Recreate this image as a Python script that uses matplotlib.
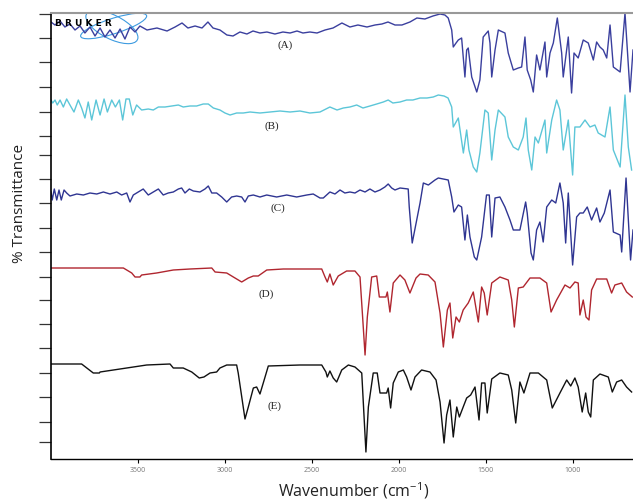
import matplotlib
matplotlib.use("Agg")
import matplotlib.pyplot as plt
from matplotlib.patches import Ellipse

plt.rcParams["font.family"] = ["Open Sans", "DejaVu Sans"]
plt.rcParams["mathtext.default"] = "regular"

# 五条红外光谱 (A)-(E)，纵坐标为堆叠后的相对透过率
a_wn = [4000, 3977, 3948, 3920, 3891, 3862, 3833, 3805, 3776, 3747, 3718, 3690, 3661, 3632, 3603, 3575,
        3546, 3517, 3489, 3448, 3391, 3333, 3287, 3247, 3213, 3172, 3132, 3098, 3069, 3029, 2989, 2954,
        2914, 2874, 2839, 2799, 2759, 2713, 2667, 2626, 2586, 2552, 2512, 2471, 2425, 2379, 2328, 2282,
        2236, 2184, 2138, 2098, 2063, 2023, 1983, 1937, 1897, 1851, 1805, 1764, 1736, 1717, 1697, 1688,
        1672, 1659, 1640, 1621, 1611, 1602, 1582, 1553, 1535, 1516, 1487, 1477, 1467, 1448, 1429, 1391,
        1372, 1343, 1314, 1295, 1276, 1263, 1243, 1228, 1209, 1190, 1161, 1151, 1132, 1113, 1090, 1065,
        1056, 1027, 1008, 994, 970, 941, 912, 883, 864, 845, 826, 806, 787, 768, 729, 701, 672, 655]
a_t = [437, 434, 438, 432, 435, 429, 433, 426, 432, 423, 431, 422, 429, 421, 430, 420,
       432, 427, 433, 429, 431, 428, 432, 436, 431, 433, 431, 437, 431, 429, 424, 423,
       427, 425, 428, 426, 427, 425, 427, 426, 428, 426, 427, 426, 429, 431, 436, 432,
       434, 432, 434, 435, 437, 434, 434, 437, 441, 440, 443, 445, 444, 441, 429, 412,
       416, 419, 421, 382, 409, 411, 382, 367, 379, 422, 428, 416, 382, 409, 429, 426,
       406, 389, 391, 392, 422, 389, 379, 367, 404, 389, 417, 382, 406, 416, 441, 406,
       382, 422, 366, 406, 401, 419, 416, 399, 417, 412, 409, 401, 434, 392, 387, 446, 367, 409]

b_wn = [4000, 3990, 3977, 3964, 3948, 3929, 3910, 3891, 3868, 3843, 3824, 3805, 3786, 3766, 3741, 3718,
        3695, 3676, 3651, 3630, 3607, 3588, 3569, 3550, 3530, 3508, 3479, 3441, 3412, 3383, 3345, 3306,
        3268, 3240, 3201, 3163, 3125, 3096, 3067, 3029, 3000, 2971, 2933, 2895, 2856, 2799, 2741, 2684,
        2626, 2569, 2512, 2454, 2397, 2356, 2320, 2282, 2243, 2207, 2167, 2128, 2090, 2062, 2035, 1994,
        1956, 1920, 1879, 1839, 1803, 1774, 1741, 1718, 1697, 1688, 1659, 1630, 1611, 1598, 1573, 1553,
        1535, 1506, 1487, 1467, 1448, 1429, 1391, 1372, 1343, 1314, 1286, 1270, 1257, 1237, 1218, 1199,
        1161, 1151, 1122, 1094, 1075, 1056, 1027, 1002, 989, 960, 931, 902, 874, 855, 816, 787,
        768, 729, 701, 682, 663]
b_t = [359, 356, 359, 354, 359, 352, 360, 354, 347, 359, 351, 341, 357, 339, 359, 344,
       360, 347, 359, 352, 359, 339, 360, 360, 344, 354, 349, 350, 349, 352, 352, 353,
       354, 352, 353, 353, 355, 355, 351, 349, 346, 344, 346, 346, 347, 346, 347, 348,
       347, 348, 346, 347, 352, 349, 351, 352, 354, 351, 353, 355, 357, 359, 356, 357,
       359, 359, 361, 361, 362, 364, 363, 361, 352, 332, 341, 306, 329, 309, 292, 287,
       306, 349, 346, 299, 329, 349, 342, 322, 312, 309, 322, 341, 309, 289, 322, 316,
       339, 306, 339, 359, 349, 309, 339, 284, 332, 332, 339, 332, 334, 326, 322, 352,
       309, 292, 364, 312, 289]

c_wn = [4000, 3993, 3981, 3967, 3954, 3941, 3925, 3910, 3891, 3852, 3814, 3776, 3737, 3699, 3661, 3622,
        3594, 3565, 3546, 3527, 3498, 3470, 3441, 3412, 3383, 3355, 3326, 3297, 3268, 3249, 3230, 3205,
        3182, 3144, 3115, 3096, 3076, 3048, 3019, 2990, 2962, 2933, 2904, 2885, 2866, 2837, 2799, 2760,
        2703, 2645, 2588, 2530, 2493, 2454, 2435, 2397, 2368, 2339, 2311, 2282, 2253, 2224, 2195, 2167,
        2138, 2109, 2081, 2062, 2042, 2023, 1994, 1947, 1941, 1924, 1898, 1879, 1860, 1831, 1793, 1774,
        1717, 1697, 1684, 1659, 1640, 1621, 1607, 1592, 1567, 1553, 1525, 1497, 1481, 1467, 1448, 1420,
        1391, 1362, 1343, 1305, 1272, 1263, 1241, 1228, 1209, 1190, 1171, 1151, 1122, 1099, 1075, 1056,
        1042, 1027, 1002, 979, 960, 941, 918, 893, 864, 845, 820, 787, 768, 729, 720, 695, 682, 669, 655]
c_t = [267, 259, 270, 259, 269, 259, 269, 266, 263, 265, 264, 266, 265, 267, 265, 267,
       264, 266, 257, 264, 267, 270, 264, 267, 270, 264, 266, 267, 270, 271, 266, 270,
       268, 267, 270, 273, 266, 266, 262, 257, 262, 263, 262, 257, 263, 264, 262, 264,
       262, 264, 262, 264, 265, 261, 261, 267, 265, 269, 266, 267, 266, 269, 267, 270,
       267, 269, 272, 275, 271, 269, 271, 270, 252, 216, 239, 256, 276, 274, 279, 281,
       279, 262, 247, 254, 252, 219, 244, 222, 202, 199, 222, 264, 264, 222, 261, 262,
       252, 239, 229, 229, 257, 246, 206, 199, 229, 237, 217, 252, 259, 256, 276, 256,
       216, 266, 194, 242, 246, 246, 252, 239, 251, 237, 246, 269, 227, 224, 207, 281, 239, 199, 229]

d_wn = [4000, 3584, 3536, 3517, 3489, 3479, 3393, 3297, 3201, 3076, 3057, 2990, 2952, 2904, 2866, 2837,
        2809, 2760, 2665, 2444, 2425, 2412, 2397, 2378, 2349, 2301, 2253, 2224, 2209, 2195, 2182, 2157,
        2128, 2113, 2075, 2067, 2052, 2033, 1994, 1966, 1937, 1902, 1879, 1832, 1793, 1764, 1745, 1722,
        1707, 1691, 1672, 1653, 1631, 1602, 1573, 1544, 1525, 1510, 1493, 1467, 1420, 1372, 1352, 1337,
        1314, 1286, 1247, 1190, 1151, 1126, 1094, 1046, 1017, 989, 970, 960, 941, 925, 908, 893,
        864, 806, 778, 759, 720, 692, 659]
d_t = [191, 191, 186, 182, 182, 184, 186, 189, 190, 191, 187, 186, 182, 177, 181, 183,
       183, 189, 190, 190, 182, 177, 185, 174, 183, 188, 188, 182, 142, 104, 142, 182,
       183, 162, 162, 167, 147, 176, 184, 179, 166, 181, 185, 184, 177, 146, 112, 149,
       156, 121, 142, 137, 149, 156, 167, 137, 172, 166, 144, 176, 182, 179, 159, 132,
       171, 172, 181, 181, 176, 147, 159, 174, 171, 177, 176, 144, 159, 142, 139, 169,
       180, 180, 166, 174, 176, 167, 162]

e_wn = [4000, 3824, 3757, 3722, 3718, 3450, 3316, 3297, 3240, 3191, 3148, 3121, 3086, 3048, 3029, 2990,
        2933, 2924, 2885, 2866, 2837, 2818, 2799, 2780, 2751, 2569, 2444, 2420, 2412, 2397, 2378, 2358,
        2329, 2291, 2253, 2214, 2190, 2176, 2148, 2125, 2109, 2071, 2062, 2048, 2033, 2004, 1975, 1956,
        1931, 1908, 1870, 1822, 1787, 1764, 1741, 1726, 1707, 1688, 1668, 1653, 1631, 1611, 1588, 1563,
        1540, 1525, 1506, 1493, 1467, 1420, 1372, 1352, 1329, 1305, 1282, 1247, 1199, 1151, 1119, 1075,
        1036, 1013, 989, 970, 947, 927, 912, 898, 883, 845, 797, 774, 749, 720, 692, 663]
e_t = [95, 95, 86, 86, 87, 94, 95, 91, 91, 87, 81, 82, 86, 87, 91, 94,
       94, 86, 40, 52, 71, 72, 65, 76, 93, 94, 94, 87, 82, 88, 81, 77,
       89, 94, 92, 86, 7, 52, 86, 86, 66, 66, 71, 51, 76, 87, 89, 82,
       69, 82, 89, 87, 79, 57, 16, 44, 59, 22, 52, 42, 52, 61, 64, 72,
       39, 76, 76, 46, 80, 86, 84, 69, 36, 77, 66, 86, 86, 79, 51, 66,
       79, 73, 81, 72, 47, 66, 47, 42, 79, 85, 82, 67, 77, 79, 72, 67]

series = [
    (a_wn, a_t, "#3a3f9e", "(A)", 2655, 414),
    (b_wn, b_t, "#5cc6d8", "(B)", 2730, 333),
    (c_wn, c_t, "#2f3592", "(C)", 2695, 251),
    (d_wn, d_t, "#b0262f", "(D)", 2764, 165),
    (e_wn, e_t, "#111111", "(E)", 2713, 53),
]

ytick_pos = [445, 421, 397, 372, 347, 323, 304, 280, 256, 231, 207, 182, 159, 135, 111, 86, 62, 37, 17]

fig = plt.figure(figsize=(6.33, 5), dpi=100)
ax = fig.add_axes([51 / 633, 41 / 500, 582 / 633, 446 / 500])

for wn, t, col, lab, lx, ly in series:
    ax.plot(wn, t, color=col, lw=1.0)
    ax.text(lx, ly, lab, fontsize=8, family="Liberation Serif", color="#222222",
            ha="center", va="center")

ax.set_xlim(4000, 655)
ax.set_ylim(0, 446)
ax.set_xticks([3500, 3000, 2500, 2000, 1500, 1000])
ax.set_xticklabels(["3500", "3000", "2500", "2000", "1500", "1000"], fontsize=5, color="#777777")
ax.tick_params(axis="x", length=3, width=0.8, pad=3, direction="out")
ax.set_yticks(ytick_pos)
ax.set_yticklabels([])
ax.tick_params(axis="y", length=9, width=0.9, color="#333333")

ax.spines["right"].set_visible(False)
ax.spines["top"].set_color("#999999")
ax.spines["top"].set_linewidth(1.5)
ax.spines["left"].set_linewidth(1.2)
ax.spines["bottom"].set_linewidth(1.0)

# 左上角的 BRUKER 标志
ax.add_patch(Ellipse((3640, 433), 380, 16, angle=-3, fill=False, ec="#3d9be0", lw=0.8))
ax.add_patch(Ellipse((3650, 432), 300, 26, angle=4, fill=False, ec="#3d9be0", lw=0.8))
ax.text(3975, 436, "B R U K E R", fontsize=6.5, fontweight="bold", color="black",
        va="center", family="DejaVu Sans")

fig.text(20 / 633, 1 - 203 / 500, "% Transmittance", rotation=90, fontsize=11,
         ha="center", va="center", color="#222222")
fig.text(354 / 633, 1 - 491 / 500, "Wavenumber (cm$^{-1}$)", fontsize=11.5,
         ha="center", va="center", color="#222222")

plt.savefig("out.png", dpi=100)
